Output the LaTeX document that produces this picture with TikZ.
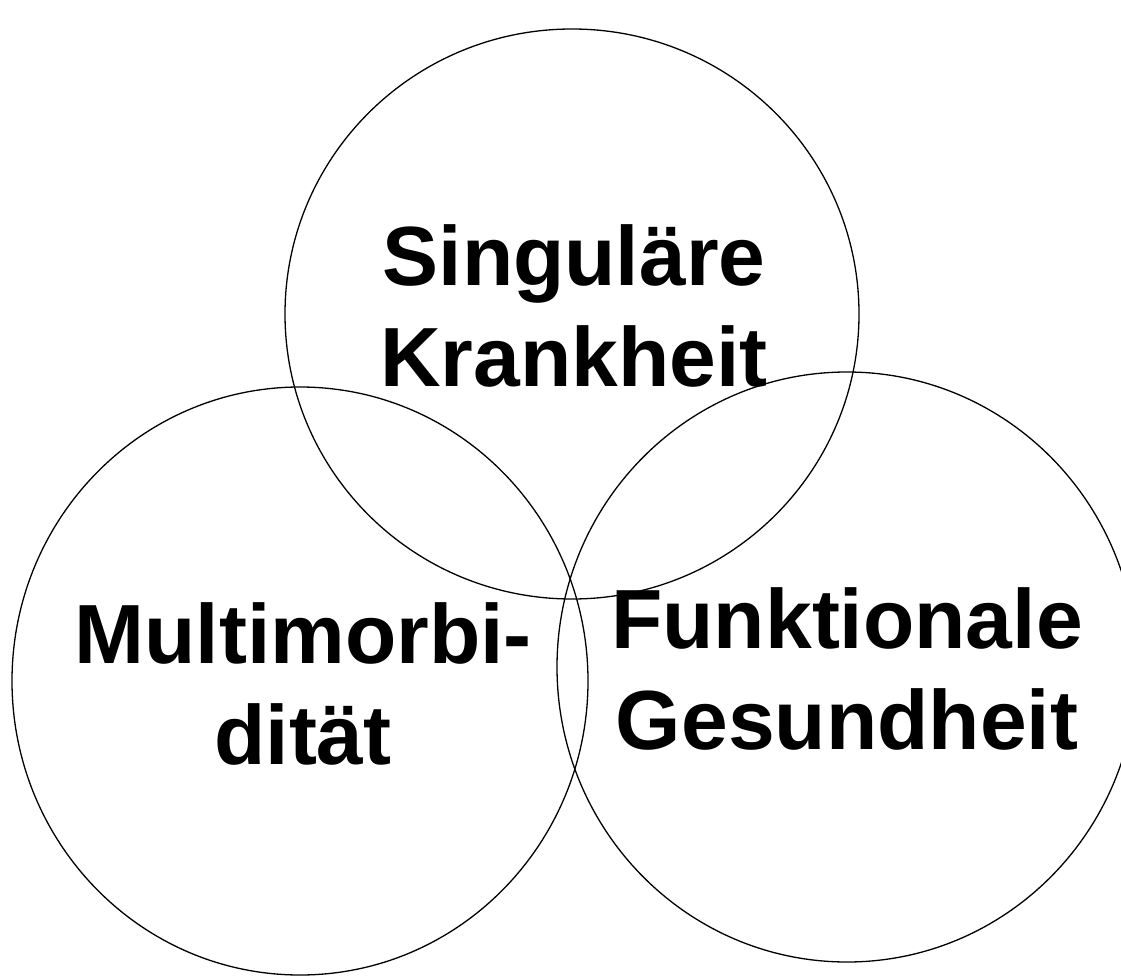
\documentclass[tikz,border=0pt]{standalone}
\usepackage{fontspec}
\setmainfont{Liberation Sans}
\begin{document}
\begin{tikzpicture}[x=1pt,y=-1pt,
  ring/.style={draw=black,line width=1.3pt},
  lbl/.style={align=center,inner sep=0pt,font=\fontsize{84}{101}\selectfont\bfseries}]
\useasboundingbox (0,0) rectangle (1121,976);
\draw[ring] (572,314) ellipse [x radius=287, y radius=285];
\draw[ring] (300,681) ellipse [x radius=288, y radius=294];
\draw[ring] (847,667) ellipse [x radius=290, y radius=295];
\node[lbl] (sk) at (574,305.5) {Singuläre\\Krankheit};
\node[lbl] (mm) at (303,683.5) {Multimorbi-\\dität};
\node[lbl] (fg) at (847,668.5) {Funktionale\\Gesundheit};
\end{tikzpicture}
\end{document}
